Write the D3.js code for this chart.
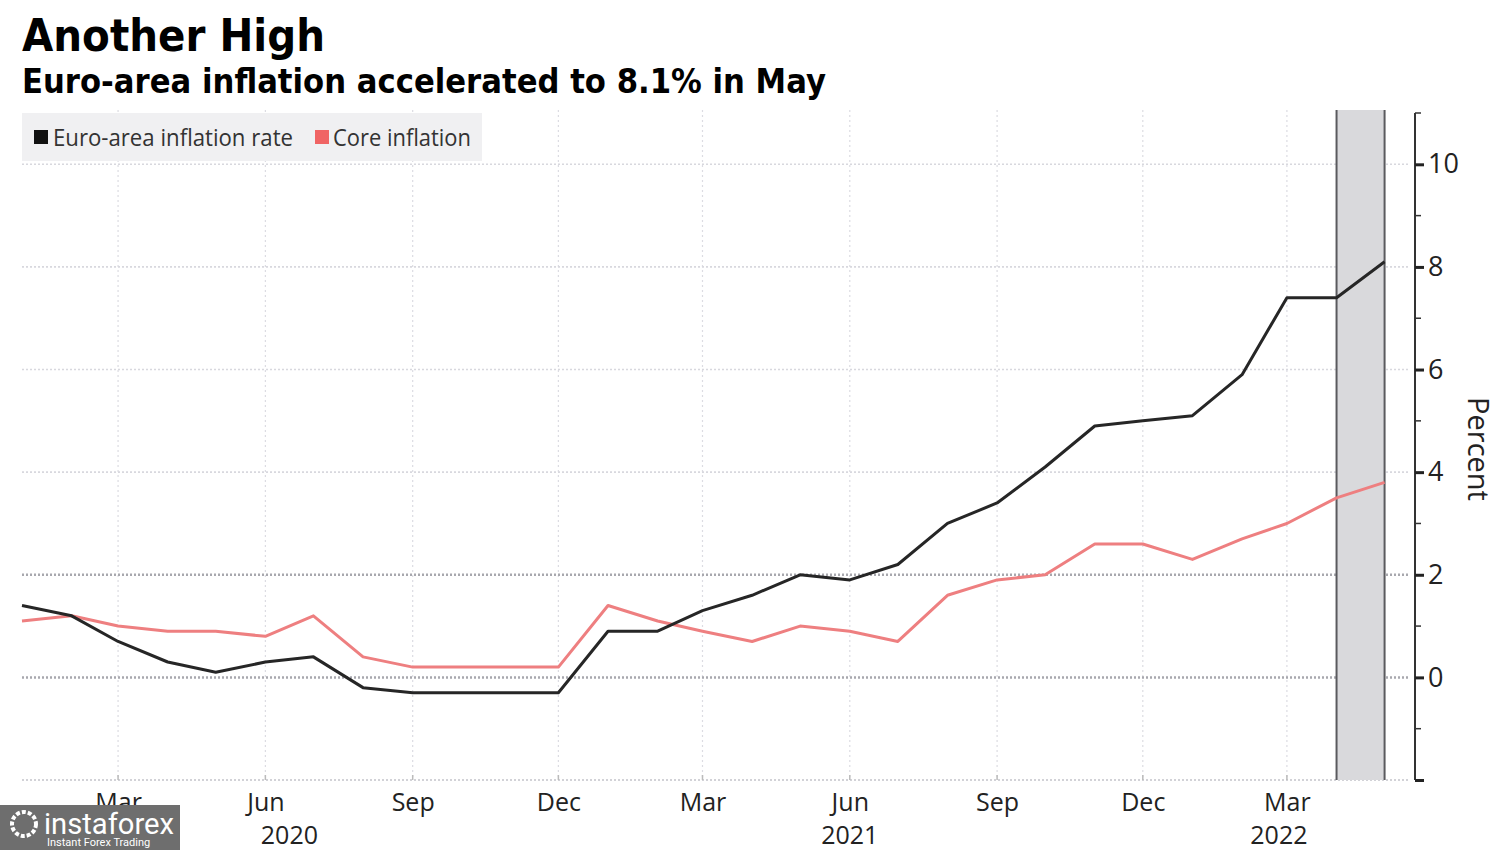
<!DOCTYPE html>
<html>
<head>
<meta charset="utf-8">
<script src="https://cdn.jsdelivr.net/npm/d3@7"></script>
<style>
  html, body { margin: 0; padding: 0; background: #fff; }
  svg { display: block; }
</style>
</head>
<body>
<svg id="chart" width="1500" height="850"></svg>
<script>
// ---------- DATA ----------
const months = [
  "2020-01","2020-02","2020-03","2020-04","2020-05","2020-06","2020-07","2020-08","2020-09","2020-10","2020-11","2020-12",
  "2021-01","2021-02","2021-03","2021-04","2021-05","2021-06","2021-07","2021-08","2021-09","2021-10","2021-11","2021-12",
  "2022-01","2022-02","2022-03","2022-04","2022-05"
];
const headline = [1.4,1.2,0.7,0.3,0.1,0.3,0.4,-0.2,-0.3,-0.3,-0.3,-0.3,
                  0.9,0.9,1.3,1.6,2.0,1.9,2.2,3.0,3.4,4.1,4.9,5.0,
                  5.1,5.9,7.4,7.4,8.1];
const core = [1.1,1.2,1.0,0.9,0.9,0.8,1.2,0.4,0.2,0.2,0.2,0.2,
              1.4,1.1,0.9,0.7,1.0,0.9,0.7,1.6,1.9,2.0,2.6,2.6,
              2.3,2.7,3.0,3.5,3.8];
const seriesNames = ["Euro-area inflation rate", "Core inflation"];
const yTicks = [-2, 0, 2, 4, 6, 8, 10];
const yMinorTicks = [-1, 1, 3, 5, 7, 9, 11];
const xTickMonths = ["2020-03","2020-06","2020-09","2020-12","2021-03","2021-06","2021-09","2021-12","2022-03"];
const yearLabels = [{label:"2020", date:"2020-06-16"},{label:"2021", date:"2021-06-01"},{label:"2022", date:"2022-02-24"}];
const shadeRange = ["2022-04","2022-05"];

(function () {
// ---------- SETUP ----------
const parseM = d3.timeParse("%Y-%m");
const parseD = d3.timeParse("%Y-%m-%d");
const svg = d3.select("#chart");
const pL = 22, pR = 1415, pT = 113, pB = 780;

const x = d3.scaleTime().domain([parseD("2020-01-01"), parseD("2022-05-20")]).range([pL, pR]);
const y = d3.scaleLinear().domain([-2, 11]).range([pB, pT]);

const fontLbl = "'Open Sans', 'Noto Sans', sans-serif";
const fontTitle = "'DejaVu Sans', Verdana, sans-serif";

// ---------- TITLES ----------
svg.append("text").attr("x", 22).attr("y", 51)
  .attr("font-family", fontTitle).attr("font-weight", "bold").attr("font-size", 44)
  .attr("textLength", 303).attr("lengthAdjust", "spacingAndGlyphs")
  .attr("fill", "#000").text("Another High");
svg.append("text").attr("x", 22).attr("y", 93)
  .attr("font-family", fontTitle).attr("font-weight", "bold").attr("font-size", 33)
  .attr("textLength", 804).attr("lengthAdjust", "spacingAndGlyphs")
  .attr("fill", "#000").text("Euro-area inflation accelerated to 8.1% in May");

// ---------- GRID ----------
const g = svg.append("g");
g.selectAll(".vgrid").data(xTickMonths).enter().append("line")
  .attr("x1", d => x(parseM(d))).attr("x2", d => x(parseM(d)))
  .attr("y1", pT - 3).attr("y2", pB)
  .attr("stroke", "#dcdce2").attr("stroke-width", 1.2).attr("stroke-dasharray", "2,3");
g.selectAll(".hgrid").data(yTicks).enter().append("line")
  .attr("x1", pL).attr("x2", pR - 5)
  .attr("y1", d => y(d)).attr("y2", d => y(d))
  .attr("stroke", d => (d === 0 || d === 2) ? "#a8a8ae" : (d === -2 ? "#c4c4ca" : "#d8d8de"))
  .attr("stroke-width", d => (d === 0 || d === 2) ? 2.5 : 1.6)
  .attr("stroke-dasharray", "2,2");

// ---------- LEGEND ----------
svg.append("rect").attr("x", 22).attr("y", 113).attr("width", 460).attr("height", 48).attr("fill", "#f0f0f2");
const legendItems = [
  {name: seriesNames[0], color: "#111", sx: 34, tx: 53, tw: 240},
  {name: seriesNames[1], color: "#f06464", sx: 315, tx: 333, tw: 138}
];
legendItems.forEach(it => {
  svg.append("rect").attr("x", it.sx).attr("y", 130).attr("width", 14).attr("height", 14).attr("fill", it.color);
  svg.append("text").attr("x", it.tx).attr("y", 146)
    .attr("font-family", fontLbl).attr("font-size", 23)
    .attr("textLength", it.tw).attr("lengthAdjust", "spacingAndGlyphs")
    .attr("fill", "#333").text(it.name);
});

// ---------- SHADE ----------
const sx0 = x(parseM(shadeRange[0])), sx1 = x(parseM(shadeRange[1]));
svg.append("rect").attr("x", sx0).attr("y", 110).attr("width", sx1 - sx0).attr("height", pB - 110)
  .attr("fill", "#d9d9dc");
[sx0, sx1].forEach(v => svg.append("line").attr("x1", v).attr("x2", v).attr("y1", 110).attr("y2", pB)
  .attr("stroke", "#5a5a5e").attr("stroke-width", 2));

// ---------- LINES ----------
const line = d3.line().x((d, i) => x(parseM(months[i]))).y(d => y(d));
svg.append("path").datum(core).attr("d", line).attr("fill", "none")
  .attr("stroke", "#ee7f80").attr("stroke-width", 3).attr("stroke-linejoin", "round");
svg.append("path").datum(headline).attr("d", line).attr("fill", "none")
  .attr("stroke", "#262626").attr("stroke-width", 3).attr("stroke-linejoin", "round");

// ---------- RIGHT AXIS ----------
const ax = svg.append("g").attr("transform", `translate(${pR},0)`);
const yAxis = d3.axisRight(y).tickValues(yTicks).tickSize(9).tickPadding(4).tickFormat(d => d === -2 ? "" : d);
ax.call(yAxis);
ax.select(".domain").attr("stroke", "#333").attr("stroke-width", 2).attr("d", `M0,${pT}V${pB}`);
ax.selectAll(".tick line").attr("stroke", "#222").attr("stroke-width", 3);
ax.selectAll(".tick text").attr("font-family", fontLbl).attr("font-size", 27).attr("fill", "#222");
ax.selectAll(".minor").data(yMinorTicks).enter().append("line")
  .attr("x1", 0).attr("x2", 6).attr("y1", d => y(d)).attr("y2", d => y(d))
  .attr("stroke", "#333").attr("stroke-width", 1.5);

svg.append("text").attr("transform", "translate(1468,449) rotate(90)")
  .attr("text-anchor", "middle").attr("font-family", fontLbl).attr("font-size", 29).attr("fill", "#222")
  .text("Percent");

// ---------- BOTTOM AXIS ----------
const bx = svg.append("g").attr("transform", `translate(0,${pB})`);
const xAxis = d3.axisBottom(x).tickValues(xTickMonths.map(parseM)).tickSize(0).tickPadding(13)
  .tickFormat(d3.timeFormat("%b"));
bx.call(xAxis);
bx.select(".domain").remove();
bx.selectAll(".tick text").attr("font-family", fontLbl).attr("font-size", 25).attr("fill", "#222");
bx.selectAll(".mt").data(xTickMonths).enter().append("line")
  .attr("x1", d => x(parseM(d))).attr("x2", d => x(parseM(d))).attr("y1", -5).attr("y2", 0)
  .attr("stroke", "#bbb").attr("stroke-width", 1.5);
bx.selectAll(".yr").data(yearLabels).enter().append("text")
  .attr("x", d => x(parseD(d.date))).attr("y", 64).attr("text-anchor", "middle")
  .attr("font-family", fontLbl).attr("font-size", 25).attr("fill", "#222").text(d => d.label);

// ---------- WATERMARK ----------
const wm = svg.append("g");
wm.append("rect").attr("x", 0).attr("y", 805).attr("width", 180).attr("height", 45).attr("fill", "#6e6e6e");
wm.append("circle").attr("cx", 24).attr("cy", 824).attr("r", 12).attr("fill", "none").attr("stroke", "#fff").attr("stroke-width", 4).attr("stroke-dasharray", "4,2");
wm.append("text").attr("x", 44).attr("y", 834).attr("font-family", "'Roboto', sans-serif").attr("font-size", 30)
  .attr("fill", "#fff").attr("textLength", 130).attr("lengthAdjust", "spacingAndGlyphs").text("instaforex");
wm.append("text").attr("x", 47).attr("y", 846).attr("font-family", "'Roboto', sans-serif").attr("font-size", 11)
  .attr("fill", "#fff").text("Instant Forex Trading");
})();
</script>
</body>
</html>
